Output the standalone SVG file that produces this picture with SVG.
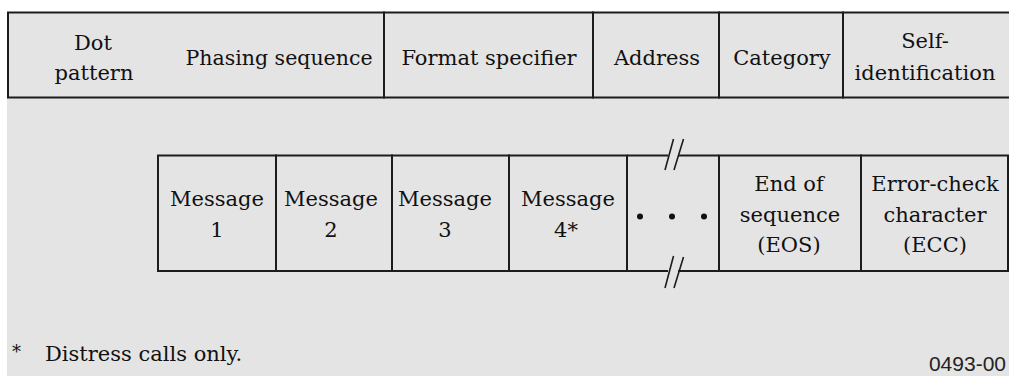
<svg xmlns="http://www.w3.org/2000/svg" width="1009" height="376" viewBox="0 0 1009 376">
<style>
.bg{fill:#e4e4e4}
.cell{fill:none;stroke:#1c1c1c;stroke-width:2}
.ln{fill:none;stroke:#1c1c1c;stroke-width:2}
.sl{fill:none;stroke:#1c1c1c;stroke-width:1.6}
.t{font-family:"DejaVu Serif","Liberation Serif",serif;font-size:21px;fill:#111;text-anchor:middle}
.fn{font-family:"DejaVu Serif","Liberation Serif",serif;font-size:21px;fill:#111}
.id{font-family:"Liberation Sans",Arial,sans-serif;font-size:21px;fill:#222;text-anchor:end}
</style>
<rect x="0" y="0" width="1009" height="376" fill="#ffffff"/>
<rect class="bg" x="7" y="13" width="1002" height="363"/>

<g id="top-row">
  <g id="dot-pattern">
    <text class="t" x="93" y="50">Dot</text>
    <text class="t" x="94" y="80">pattern</text>
  </g>
  <g id="phasing-sequence">
    <rect class="cell" x="8" y="12.5" width="376" height="85"/>
    <text class="t" x="279" y="65" style="font-size:20.5px">Phasing sequence</text>
  </g>
  <g id="format-specifier">
    <rect class="cell" x="384" y="12.5" width="209" height="85"/>
    <text class="t" x="489" y="65">Format specifier</text>
  </g>
  <g id="address">
    <rect class="cell" x="593" y="12.5" width="126" height="85"/>
    <text class="t" x="657" y="65">Address</text>
  </g>
  <g id="category">
    <rect class="cell" x="719" y="12.5" width="124" height="85"/>
    <text class="t" x="782" y="65">Category</text>
  </g>
  <g id="self-identification">
    <rect class="cell" x="843" y="12.5" width="175" height="85"/>
    <text class="t" x="925" y="48">Self-</text>
    <text class="t" x="925" y="80">identification</text>
  </g>
</g>

<g id="bottom-row">
  <g id="message-1">
    <rect class="cell" x="158" y="155.5" width="118" height="115.5"/>
    <text class="t" x="217" y="206">Message</text>
    <text class="t" x="217" y="237">1</text>
  </g>
  <g id="message-2">
    <rect class="cell" x="276" y="155.5" width="116" height="115.5"/>
    <text class="t" x="331" y="206">Message</text>
    <text class="t" x="331" y="237">2</text>
  </g>
  <g id="message-3">
    <rect class="cell" x="392" y="155.5" width="117" height="115.5"/>
    <text class="t" x="445" y="206">Message</text>
    <text class="t" x="445" y="237">3</text>
  </g>
  <g id="message-4">
    <rect class="cell" x="509" y="155.5" width="118" height="115.5"/>
    <text class="t" x="568" y="206">Message</text>
    <text class="t" x="566" y="237">4*</text>
  </g>
  <g id="ellipsis">
    <path class="ln" d="M627,155.5 H668 M678,155.5 H719 M627,271 H668 M678,271 H719"/>
    <circle cx="640" cy="216.5" r="3" fill="#111"/>
    <circle cx="672" cy="216.5" r="3" fill="#111"/>
    <circle cx="704" cy="216.5" r="3" fill="#111"/>
  </g>
  <g id="end-of-sequence">
    <rect class="cell" x="719" y="155.5" width="142" height="115.5"/>
    <text class="t" x="789" y="191">End of</text>
    <text class="t" x="790" y="221.5">sequence</text>
    <text class="t" x="789" y="252">(EOS)</text>
  </g>
  <g id="error-check-character">
    <rect class="cell" x="861" y="155.5" width="147" height="115.5"/>
    <text class="t" x="935" y="191">Error-check</text>
    <text class="t" x="935" y="221.5">character</text>
    <text class="t" x="935" y="252">(ECC)</text>
  </g>
</g>

<g id="break-marks">
  <path class="sl" d="M673.5,139 L665,170 M683.5,139 L674,170"/>
  <path class="sl" d="M673.5,256 L665,288 M683.5,257 L674,288"/>
</g>

<g id="footnote">
  <text class="fn" x="12" y="358" style="font-size:18px">*</text>
  <text class="fn" x="45" y="361">Distress calls only.</text>
</g>
<g id="figure-id">
  <text class="id" x="1006" y="371">0493-00</text>
</g>
</svg>
